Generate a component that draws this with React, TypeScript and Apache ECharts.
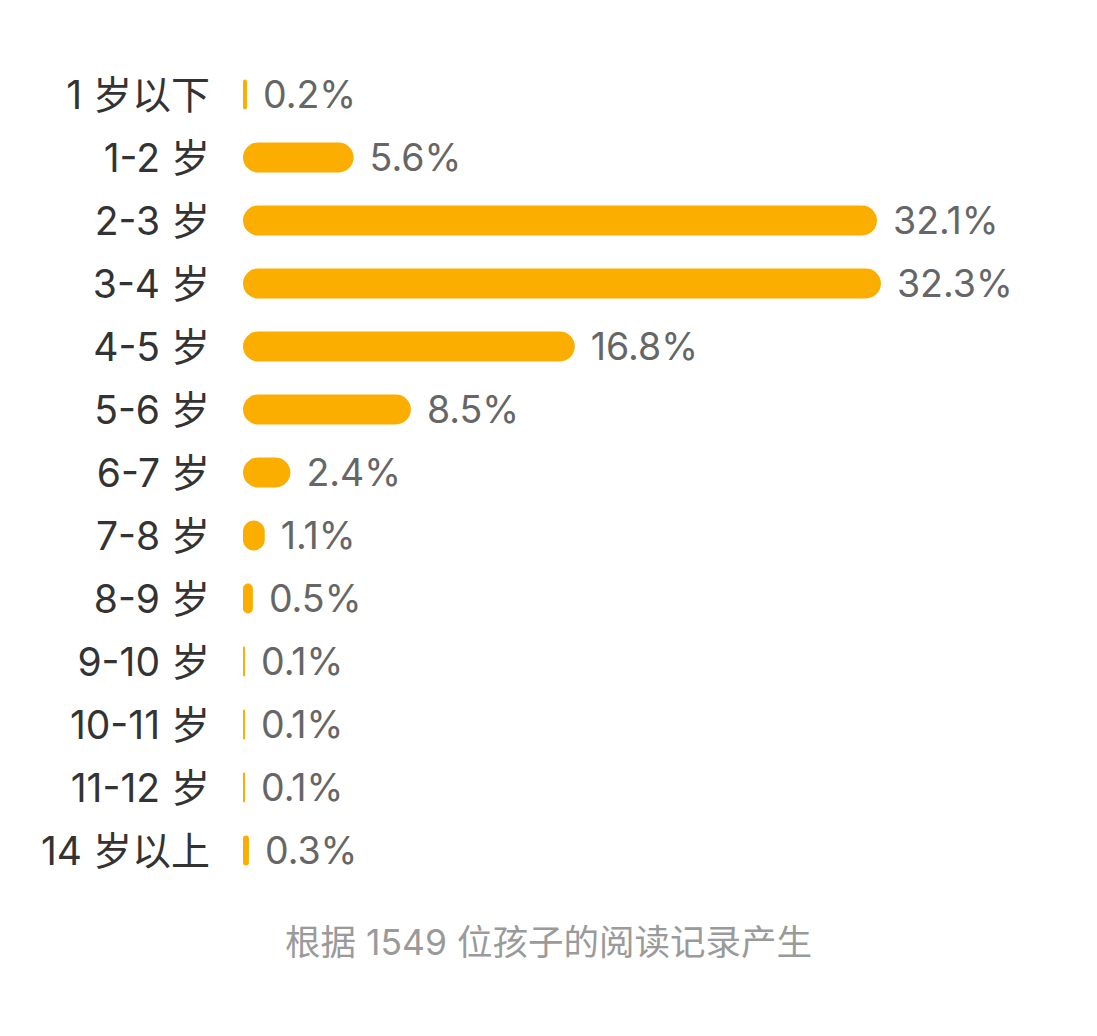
import React, { useEffect, useRef } from "react";
import * as echarts from "echarts";

const categories = [
  "1 岁以下", "1-2 岁", "2-3 岁", "3-4 岁", "4-5 岁", "5-6 岁", "6-7 岁",
  "7-8 岁", "8-9 岁", "9-10 岁", "10-11 岁", "11-12 岁", "14 岁以上",
];
const percents = [0.2, 5.6, 32.1, 32.3, 16.8, 8.5, 2.4, 1.1, 0.5, 0.1, 0.1, 0.1, 0.3];
const footerText = "根据 1549 位孩子的阅读记录产生";

const FONT = "Inter, 'Noto Sans CJK SC', 'Noto Sans', sans-serif";

export default function App() {
  const ref = useRef<HTMLDivElement>(null);
  useEffect(() => {
    if (!ref.current) return;
    const chart = echarts.init(ref.current, undefined, { renderer: "svg" });
    chart.setOption({
      animation: false,
      backgroundColor: "#ffffff",
      grid: { left: 243, top: 63, height: 819, width: 790, containLabel: false },
      xAxis: {
        type: "value",
        min: 0,
        max: 40,
        show: false,
      },
      yAxis: {
        type: "category",
        inverse: true,
        data: categories,
        axisLine: { show: false },
        axisTick: { show: false },
        splitLine: { show: false },
        axisLabel: {
          color: "#333333",
          fontSize: 39,
          fontFamily: FONT,
          margin: 33,
        },
      },
      title: {
        text: footerText,
        left: "center",
        top: 920,
        textStyle: { color: "#9a9a9a", fontSize: 35.5, fontWeight: "normal", fontFamily: FONT },
      },
      series: [
        {
          type: "bar",
          data: percents,
          barWidth: 30,
          itemStyle: { color: "#FBAE00", borderRadius: 15 },
          label: {
            show: true,
            position: "right",
            distance: 16,
            formatter: (p: any) => p.value.toFixed(1) + "%",
            color: "#666666",
            fontSize: 37.5,
            fontFamily: FONT,
          },
        },
      ],
    });
    return () => chart.dispose();
  }, []);
  return (
    <div
      ref={ref}
      style={{ position: "fixed", left: 0, top: 0, width: 1097, height: 1036, background: "#fff" }}
    />
  );
}
